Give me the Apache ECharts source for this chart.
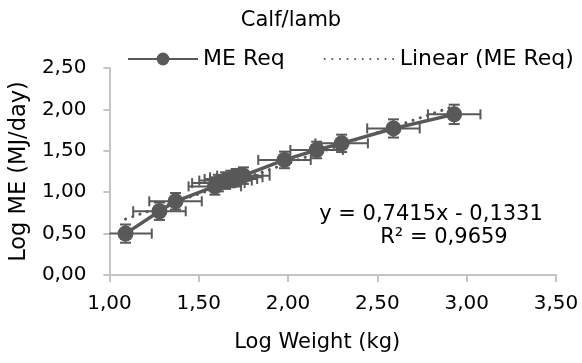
<!DOCTYPE html>
<html><head><meta charset="utf-8">
<script src="https://cdn.jsdelivr.net/npm/echarts@6/dist/echarts.min.js"></script>
<style>html,body{margin:0;padding:0;background:#fff}#c{width:582px;height:363px}</style>
</head><body><div id="c"></div>
<script>
// ---- data ----
const chartTitle = 'Calf/lamb';
const seriesName = 'ME Req';
const trendName = 'Linear (ME Req)';
const xAxisTitle = 'Log Weight (kg)';
const yAxisTitle = 'Log ME (MJ/day)';
const logWeight = [1.09, 1.28, 1.37, 1.59, 1.61, 1.65, 1.68, 1.71, 1.75, 1.98, 2.16, 2.30, 2.59, 2.93];
const logME     = [0.50, 0.77, 0.89, 1.07, 1.11, 1.14, 1.16, 1.18, 1.20, 1.39, 1.51, 1.59, 1.77, 1.94];
const xErr      = [0.147, 0.147, 0.147, 0.147, 0.147, 0.147, 0.147, 0.147, 0.147, 0.147, 0.147, 0.147, 0.147, 0.147];
const yErr      = [0.11, 0.105, 0.10, 0.10, 0.10, 0.10, 0.10, 0.10, 0.10, 0.10, 0.10, 0.105, 0.11, 0.117];
const trendSlope = 0.7415;
const trendIntercept = -0.1331;
const equationText = 'y = 0,7415x - 0,1331';
const r2Text = 'R² = 0,9659';
const xTicks = [1.0, 1.5, 2.0, 2.5, 3.0, 3.5];
const xTickLabels = ['1,00', '1,50', '2,00', '2,50', '3,00', '3,50'];
const yTicks = [0.0, 0.5, 1.0, 1.5, 2.0, 2.5];
const yTickLabels = ['0,00', '0,50', '1,00', '1,50', '2,00', '2,50'];

// ---- chart ----
const FONT = "'DejaVu Sans'";
const GREY = '#595959';
const AXIS = '#c4c4c4';
const TXT = '#000';

function tickLabel(ticks, labels) {
  return function (v) {
    const i = ticks.findIndex(t => Math.abs(t - v) < 1e-9);
    return i >= 0 ? labels[i] : '';
  };
}

const points = logWeight.map((x, i) => [x, logME[i]]);
const errData = logWeight.map((x, i) => [x, logME[i], xErr[i], yErr[i]]);
const xMin = Math.min(...logWeight), xMax = Math.max(...logWeight);
const trendData = [[xMin, trendSlope * xMin + trendIntercept], [xMax, trendSlope * xMax + trendIntercept]];

const chart = echarts.init(document.getElementById('c'), null, {renderer: 'canvas'});
chart.setOption({
  animation: false,
  backgroundColor: '#fff',
  title: {
    text: chartTitle, left: 'center', top: 5,
    textStyle: {fontFamily: FONT, fontSize: 21, fontWeight: 'normal', color: TXT}
  },
  legend: {
    data: [
      {name: seriesName},
      {name: trendName, itemStyle: {opacity: 0}}
    ],
    left: 122, top: 43,
    itemWidth: 70, itemHeight: 16, itemGap: 39,
    textStyle: {fontFamily: FONT, fontSize: 22, color: TXT},
    selectedMode: false
  },
  grid: {left: 109, right: 26, top: 68, bottom: 88, containLabel: false},
  xAxis: {
    type: 'value', min: 1, max: 3.5, interval: 0.5,
    name: xAxisTitle, nameLocation: 'middle', nameGap: 57,
    nameTextStyle: {fontFamily: FONT, fontSize: 21, color: TXT, padding: [0, 31, 0, 0]},
    axisLine: {show: true, onZero: false, lineStyle: {color: AXIS, width: 2}},
    axisTick: {show: true, length: 7, lineStyle: {color: AXIS, width: 2}},
    axisLabel: {fontFamily: FONT, fontSize: 20, color: TXT, margin: 19, formatter: tickLabel(xTicks, xTickLabels)},
    splitLine: {show: false}
  },
  yAxis: {
    type: 'value', min: 0, max: 2.5, interval: 0.5,
    name: yAxisTitle, nameLocation: 'middle', nameGap: 75,
    nameTextStyle: {fontFamily: FONT, fontSize: 22.5, color: TXT},
    axisLine: {show: true, onZero: false, lineStyle: {color: AXIS, width: 2}},
    axisTick: {show: true, length: 6, lineStyle: {color: AXIS, width: 2}},
    axisLabel: {fontFamily: FONT, fontSize: 20, color: TXT, margin: 23, formatter: tickLabel(yTicks, yTickLabels)},
    splitLine: {show: false}
  },
  graphic: [
    {type: 'text', x: 431, y: 215, z: 100,
     style: {text: equationText, font: '21px ' + FONT, fill: TXT, align: 'center', verticalAlign: 'middle', textAlign: 'center', textVerticalAlign: 'middle'}},
    {type: 'text', x: 444, y: 238, z: 100,
     style: {text: r2Text, font: '21px ' + FONT, fill: TXT, align: 'center', verticalAlign: 'middle', textAlign: 'center', textVerticalAlign: 'middle'}}
  ],
  series: [
    {
      name: 'errors', type: 'custom', z: 4, silent: true,
      data: errData,
      renderItem: function (params, api) {
        const x = api.value(0), y = api.value(1), ex = api.value(2), ey = api.value(3);
        const cs = params.coordSys;
        const l = api.coord([x - ex, y]), r = api.coord([x + ex, y]);
        const t = api.coord([x, y + ey]), b = api.coord([x, y - ey]);
        const st = {stroke: GREY, lineWidth: 2};
        const capX = 5, capY = 5.5;
        const kids = [];
        const lClipped = l[0] < cs.x;
        const lx = lClipped ? cs.x : l[0];
        kids.push({type: 'line', shape: {x1: lx, y1: l[1], x2: r[0], y2: r[1]}, style: st});
        if (!lClipped) kids.push({type: 'line', shape: {x1: l[0], y1: l[1] - capX, x2: l[0], y2: l[1] + capX}, style: st});
        kids.push({type: 'line', shape: {x1: r[0], y1: r[1] - capX, x2: r[0], y2: r[1] + capX}, style: st});
        kids.push({type: 'line', shape: {x1: t[0], y1: t[1], x2: b[0], y2: b[1]}, style: st});
        kids.push({type: 'line', shape: {x1: t[0] - capY, y1: t[1], x2: t[0] + capY, y2: t[1]}, style: st});
        kids.push({type: 'line', shape: {x1: b[0] - capY, y1: b[1], x2: b[0] + capY, y2: b[1]}, style: st});
        return {type: 'group', children: kids};
      }
    },
    {
      name: seriesName, type: 'line', z: 3,
      data: points,
      symbol: 'circle', symbolSize: 16,
      lineStyle: {color: GREY, width: 3.5},
      itemStyle: {color: GREY},
      emphasis: {disabled: true}
    },
    {
      name: trendName, type: 'line', z: 5,
      data: trendData,
      symbol: 'none',
      lineStyle: {color: GREY, width: 3, type: [0.1, 7.5], cap: 'round'},
      itemStyle: {color: GREY},
      emphasis: {disabled: true}
    }
  ]
});
</script>
</body></html>
